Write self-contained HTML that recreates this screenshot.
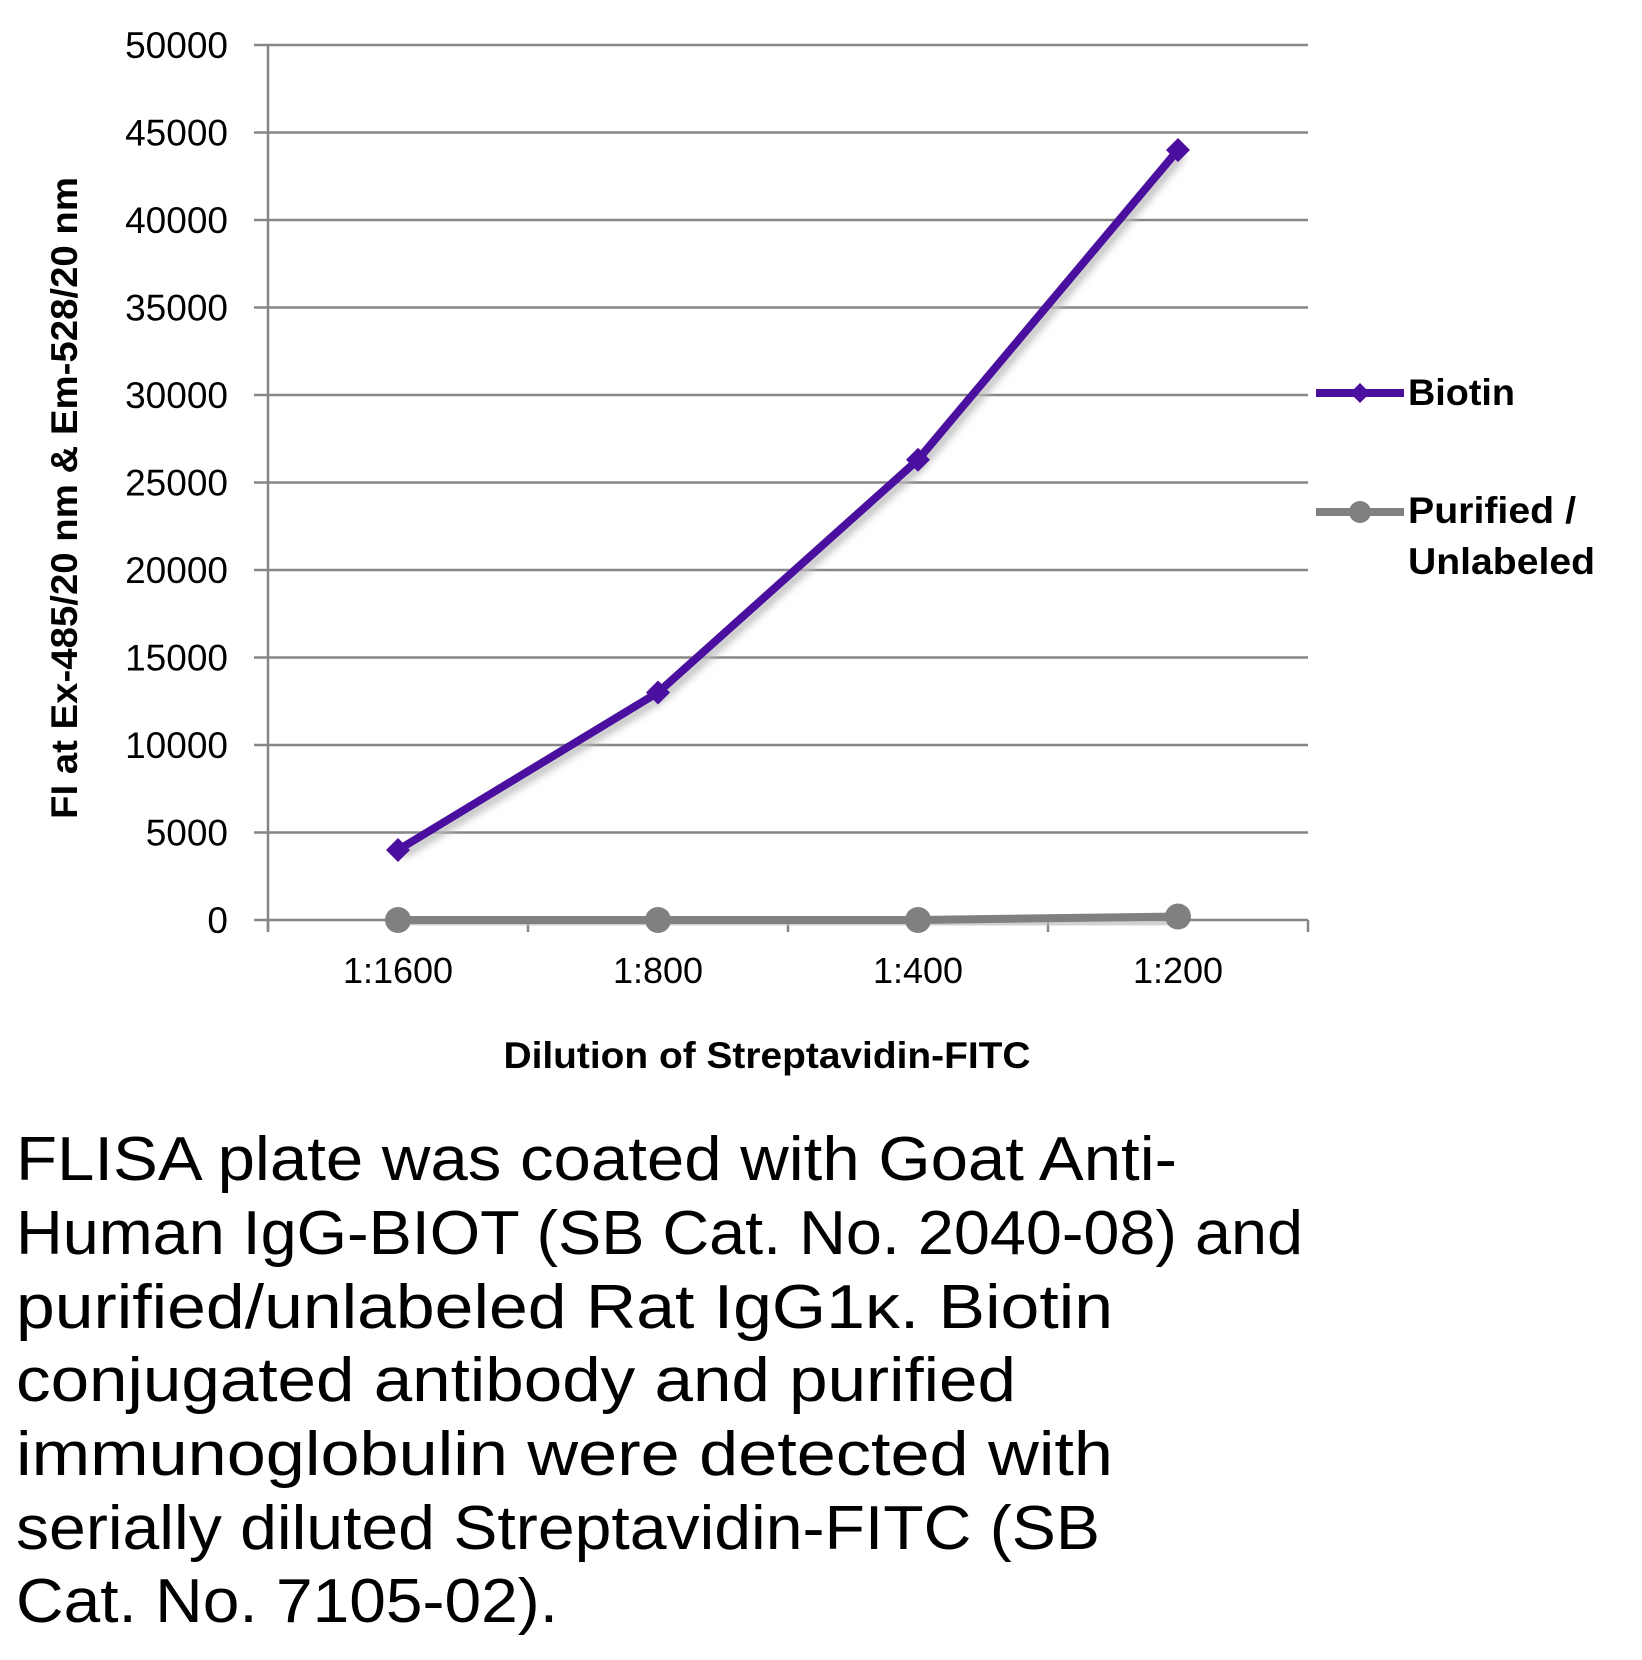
<!DOCTYPE html>
<html><head><meta charset="utf-8"><style>
body{margin:0;background:#fff;width:1642px;height:1655px;overflow:hidden}
svg text{font-family:"Liberation Sans",sans-serif}
</style></head><body>
<svg id="chart" width="1642" height="1655" xmlns="http://www.w3.org/2000/svg">
<defs><filter id="sh" x="-10%" y="-10%" width="120%" height="120%"><feGaussianBlur stdDeviation="4"/></filter></defs>
<g id="grid"></g><g id="axes"></g><g id="series"></g>
<text transform="translate(77,498) rotate(-90)" text-anchor="middle" font-size="37" font-weight="bold" textLength="642" lengthAdjust="spacingAndGlyphs">FI at Ex-485/20 nm &amp; Em-528/20 nm</text>
<text x="767" y="1068" text-anchor="middle" font-size="37" font-weight="bold" textLength="527" lengthAdjust="spacingAndGlyphs">Dilution of Streptavidin-FITC</text>
<g>
<line x1="1316" y1="393" x2="1404" y2="393" stroke="#4b0f9f" stroke-width="8"/>
<path d="M1360 383 L1370 393 L1360 403 L1350 393Z" fill="#4b0f9f"/>
<text x="1408" y="405" font-size="37" font-weight="bold" textLength="107" lengthAdjust="spacingAndGlyphs">Biotin</text>
<line x1="1316" y1="512" x2="1404" y2="512" stroke="#808080" stroke-width="8"/>
<circle cx="1360" cy="512" r="11" fill="#808080"/>
<text x="1408" y="523" font-size="37" font-weight="bold" textLength="168" lengthAdjust="spacingAndGlyphs">Purified /</text>
<text x="1408" y="574" font-size="37" font-weight="bold" textLength="187" lengthAdjust="spacingAndGlyphs">Unlabeled</text>
</g>
<g font-size="62" lengthAdjust="spacingAndGlyphs">
<text x="16" y="1180" textLength="1161" lengthAdjust="spacingAndGlyphs">FLISA plate was coated with Goat Anti-</text>
<text x="16" y="1254" textLength="1287" lengthAdjust="spacingAndGlyphs">Human IgG-BIOT (SB Cat. No. 2040-08) and</text>
<text x="16" y="1328" textLength="1097" lengthAdjust="spacingAndGlyphs">purified/unlabeled Rat IgG1κ.  Biotin</text>
<text x="16" y="1401" textLength="1000" lengthAdjust="spacingAndGlyphs">conjugated antibody and purified</text>
<text x="16" y="1475" textLength="1097" lengthAdjust="spacingAndGlyphs">immunoglobulin were detected with</text>
<text x="16" y="1549" textLength="1084" lengthAdjust="spacingAndGlyphs">serially diluted Streptavidin-FITC (SB</text>
<text x="16" y="1622" textLength="542" lengthAdjust="spacingAndGlyphs">Cat. No. 7105-02).</text>
</g>
</svg>
<script>
const categories=["1:1600","1:800","1:400","1:200"];
const biotin=[4000,13000,26300,44000];
const purified=[0,0,0,200];
const yTicks=[0,5000,10000,15000,20000,25000,30000,35000,40000,45000,50000];
const NS="http://www.w3.org/2000/svg";
const X0=268,X1=1308,Y0=920,Y1=45,YMAX=50000;
const yS=v=>Y0-(v/YMAX)*(Y0-Y1);
const xS=i=>X0+(i+0.5)*(X1-X0)/categories.length;
function mk(t,a,p){const e=document.createElementNS(NS,t);for(const k in a)e.setAttribute(k,a[k]);p.appendChild(e);return e;}
const grid=document.getElementById('grid'),axes=document.getElementById('axes'),ser=document.getElementById('series');
yTicks.forEach(v=>{
 const y=yS(v);
 if(v>0){const l=mk('line',{x1:X0,x2:X1,y1:y,y2:y,stroke:'#868686','stroke-width':2.5},grid);
 
 }
 mk('line',{x1:X0-14,x2:X0,y1:y,y2:y,stroke:'#868686','stroke-width':2.5},axes);
 const t=mk('text',{x:228,y:y+13,'text-anchor':'end','font-size':37},axes);t.textContent=v;
 
 
});
mk('line',{x1:X0,x2:X0,y1:Y1,y2:Y0+11,stroke:'#868686','stroke-width':2.5},axes);
mk('line',{x1:X0,x2:X1,y1:Y0,y2:Y0,stroke:'#868686','stroke-width':2.5},axes);
for(let i=0;i<=categories.length;i++){const x=X0+i*(X1-X0)/categories.length;mk('line',{x1:x,x2:x,y1:Y0,y2:Y0+12,stroke:'#868686','stroke-width':2.5},axes);}
categories.forEach((c,i)=>{const t=mk('text',{x:xS(i),y:983,'text-anchor':'middle','font-size':36},axes);t.textContent=c;
 
 });
function line(vals,color,name,marker){
 const pts=vals.map((v,i)=>xS(i)+','+yS(v)).join(' ');
 mk('polyline',{points:vals.map((v,i)=>(xS(i)+4)+','+(yS(v)+5)).join(' '),fill:'none',stroke:'#bbb','stroke-width':8,filter:'url(#sh)'},ser);
 const p=mk('polyline',{points:pts,fill:'none',stroke:color,'stroke-width':8,'stroke-linejoin':'round'},ser);
 
 
 vals.forEach((v,i)=>{const x=xS(i),y=yS(v);let m;
  if(marker==='d')m=mk('path',{d:`M${x} ${y-12}L${x+12} ${y}L${x} ${y+12}L${x-12} ${y}Z`,fill:color},ser);
  else m=mk('circle',{cx:x,cy:y,r:13,fill:color},ser);
  
  });
}
line(purified,'#808080','purified','c');
line(biotin,'#4b0f9f','biotin','d');
</script>
</body></html>
